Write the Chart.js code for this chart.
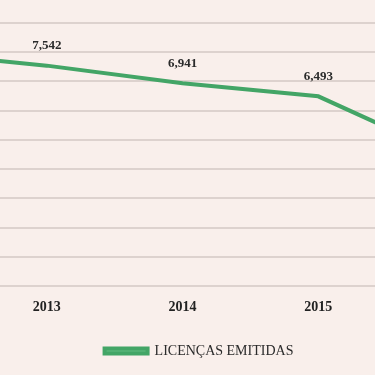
<!DOCTYPE html>
<html lang="pt">
<head>
<meta charset="UTF-8">
<title>Licenças emitidas</title>
<script src="https://cdn.jsdelivr.net/npm/chart.js@4.4.0/dist/chart.umd.min.js"></script>
<style>
  html, body { margin: 0; padding: 0; background: #f9efeb; overflow: hidden; }
  #wrap { position: relative; width: 375px; height: 375px; overflow: hidden; }
  #chart { position: absolute; left: -116px; top: 0; }
</style>
</head>
<body>
<div id="wrap">
  <canvas id="chart" width="630" height="375"></canvas>
</div>
<script>
// data (2012 and 2016 are only partly visible at the edges)
const years = ['2012', '2013', '2014', '2015', '2016'];
const licencas = [8010, 7542, 6941, 6493, 4380];
const seriesName = 'LICENÇAS EMITIDAS';

const green = '#43a566';
const serif = "'Liberation Serif', 'DejaVu Serif', serif";

// draw the value above each point
const valueLabels = {
  id: 'valueLabels',
  afterDatasetsDraw(chart) {
    const ctx = chart.ctx;
    const meta = chart.getDatasetMeta(0);
    ctx.save();
    ctx.font = 'bold 13px ' + serif;
    ctx.fillStyle = '#2b2b2b';
    ctx.textAlign = 'center';
    ctx.textBaseline = 'middle';
    meta.data.forEach((pt, i) => {
      ctx.fillText(licencas[i].toLocaleString('en-US'), pt.x, pt.y - 20);
    });
    ctx.restore();
  }
};

new Chart(document.getElementById('chart'), {
  type: 'line',
  data: {
    labels: years,
    datasets: [{
      label: seriesName,
      data: licencas,
      borderColor: green,
      backgroundColor: '#62bb80',
      borderWidth: 4,
      pointRadius: 0,
      tension: 0
    }]
  },
  options: {
    responsive: false,
    animation: false,
    layout: { padding: { top: 23, right: 0, left: 0, bottom: 7 } },
    scales: {
      x: {
        grid: { display: false, drawTicks: false },
        border: { display: false },
        ticks: {
          autoSkip: false, maxRotation: 0, padding: 13,
          color: '#222', font: { family: serif, size: 14, weight: 'bold' }
        }
      },
      y: {
        position: 'right',
        min: 0, max: 9000,
        ticks: { display: false, stepSize: 1000 },
        border: { display: false },
        grid: { color: '#ddd2ce', lineWidth: 2, drawTicks: false },
        // empty space on the right (the original chart continues there)
        afterFit(scale) { scale.width = 60; }
      }
    },
    plugins: {
      legend: {
        position: 'bottom',
        labels: {
          boxWidth: 43, boxHeight: 5, padding: 15,
          color: '#2b2b2b', font: { family: serif, size: 14 }
        }
      },
      tooltip: { enabled: false }
    }
  },
  plugins: [valueLabels]
});
</script>
</body>
</html>
